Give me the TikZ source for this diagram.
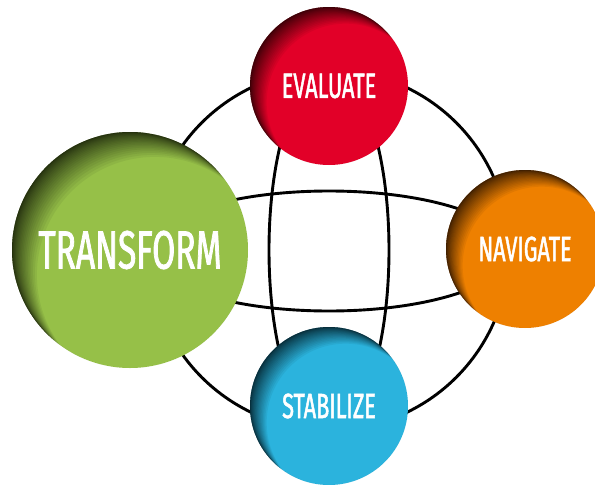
\documentclass[tikz,border=0pt]{standalone}
\usepackage{fontspec}
\newfontfamily\narrowfont[FakeStretch=0.62,FakeBold=1.4]{Fira Sans}
\definecolor{evalred}{RGB}{226,0,40}
\definecolor{navorange}{RGB}{238,128,0}
\definecolor{stabblue}{RGB}{43,179,221}
\definecolor{transgreen}{RGB}{150,192,72}
\tikzset{
  globe/.style 2 args={circle,fill=#1,minimum size=#2,inner sep=0pt,text=white,
    path picture={\foreach \k in {1,...,24}
      \fill[black,opacity=0.055,even odd rule] (path picture bounding box.center) circle (300pt)
        ([shift={(#2*0.00019*\k*\k,-#2*0.00019*\k*\k)}]path picture bounding box.center) circle (#2/2);}},
  small/.style={font=\narrowfont\fontsize{35pt}{35pt}\selectfont}
}
\begin{document}
\begin{tikzpicture}[x=1pt,y=-1pt,line width=2.9pt]
	\useasboundingbox (0,0) rectangle (595,485);
	\coordinate (hub) at (329,250);
	\draw (hub) circle (180pt);
	\draw (hub) ellipse (60pt and 180pt);
	\draw ([yshift=-1pt]hub) ellipse (182pt and 60pt);
	\node[globe={transgreen}{236pt},font=\narrowfont\fontsize{54pt}{54pt}\selectfont] (transform) at (130,250) {TRANSFORM};
	\foreach \name/\pos/\col/\txt in {evaluate/{(329,86)}/evalred/EVALUATE,
	     navigate/{(525,249)}/navorange/NAVIGATE,stabilize/{(329,406)}/stabblue/STABILIZE}
	     \node[globe={\col}{158pt},small] (\name) at \pos {\txt};
\end{tikzpicture}
\end{document}
